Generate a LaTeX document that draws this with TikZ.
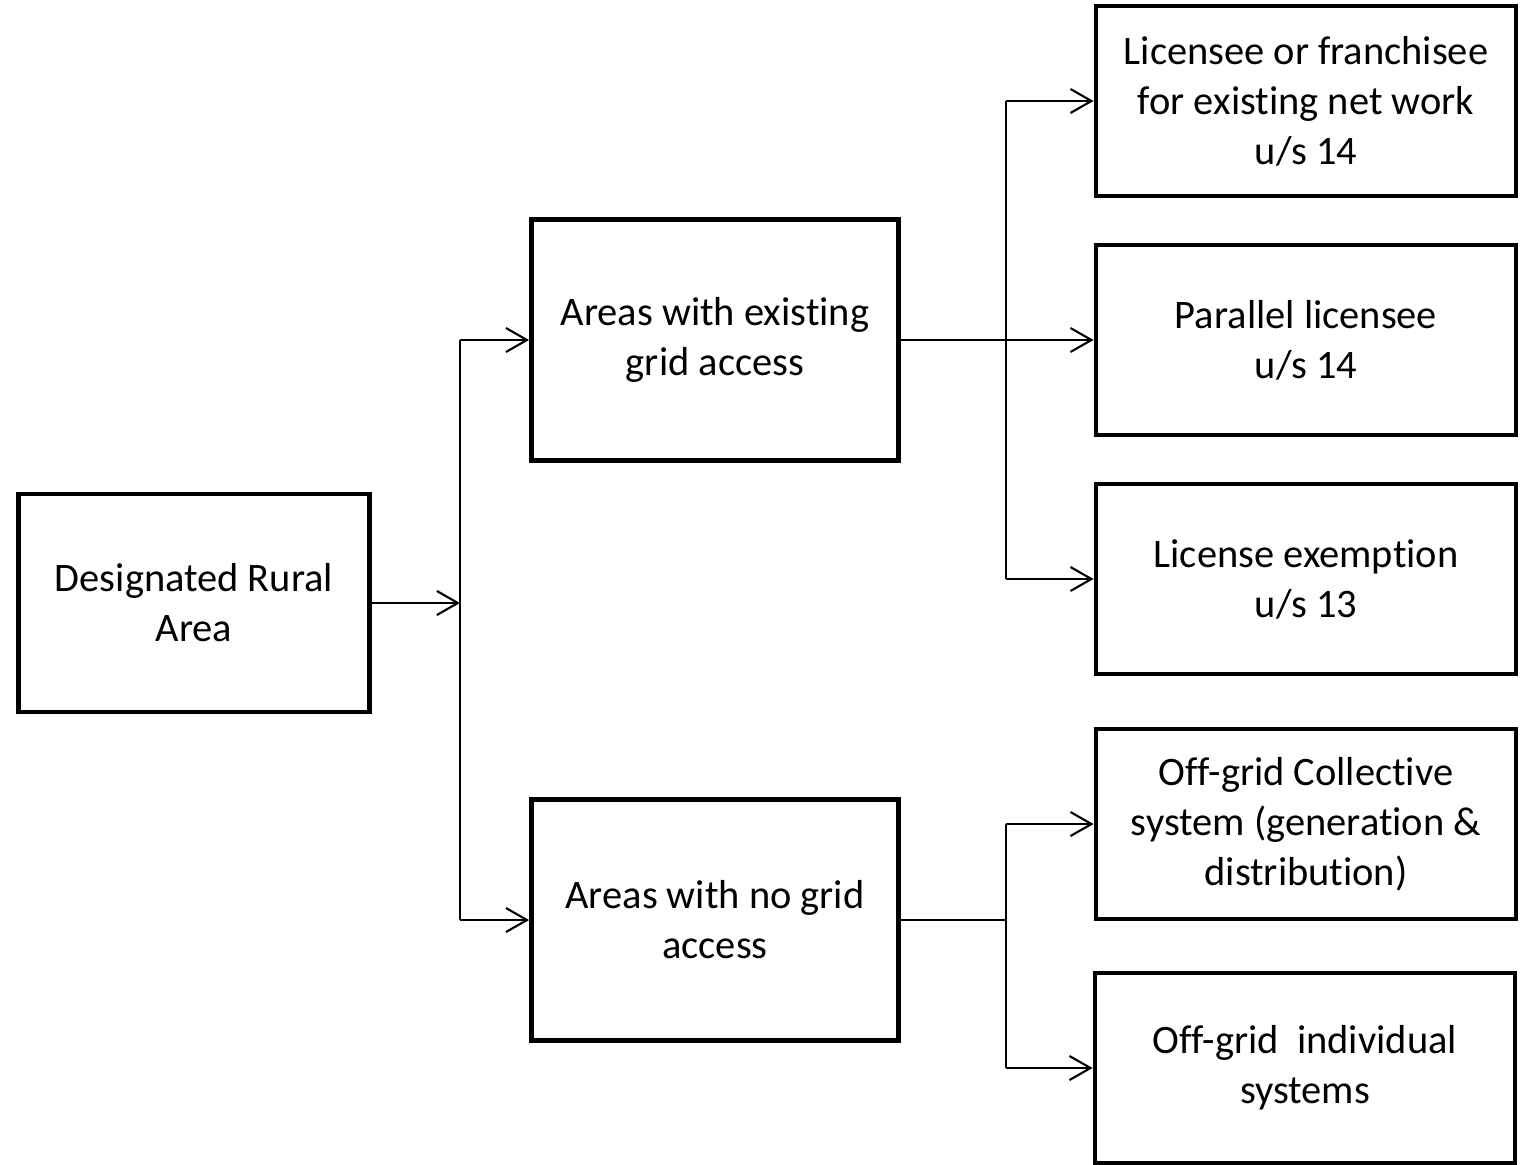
\documentclass[tikz,border=0pt]{standalone}
\usepackage{fontspec}
\setmainfont{Carlito}[Ligatures=NoCommon]
\usetikzlibrary{arrows.meta}

\tikzset{
	box/.style={draw, line width=1.3pt, align=center, inner sep=0pt,
		font=\fontsize{11.5}{14.2}\selectfont},
	leftbox/.style={box, minimum width=3.51cm, minimum height=2.18cm},
	midbox/.style={box, minimum width=3.67cm, minimum height=2.41cm},
	rightbox/.style={box, minimum width=4.2cm, minimum height=1.9cm},
	link/.style={line width=0.6pt},
	arr/.style={link, -{Straight Barb[length=2.1mm,width=2.4mm]}}
}

\begin{document}
\begin{tikzpicture}[x=0.01cm, y=-0.01cm]
	\useasboundingbox (0,0) rectangle (1534,1164);

	% boxes
	\node[leftbox] (rural) at (194,603) {Designated Rural\\Area};
	\node[midbox] (grid) at (715,340) {Areas with existing\\grid access};
	\node[midbox] (nogrid) at (715,920) {Areas with no grid\\access};
	\node[rightbox] (lic) at (1306,101) {Licensee or franchisee\\for existing net work\\u/s 14};
	\node[rightbox] (par) at (1306,340) {Parallel licensee\\u/s 14};
	\node[rightbox] (exem) at (1306,579) {License exemption\\u/s 13};
	\node[rightbox] (coll) at (1306,824) {Off-grid Collective\\system (generation \&\\distribution)};
	\node[rightbox] (indiv) at (1305,1068) {Off-grid~ individual\\systems};

	% trunks
	\coordinate (t1) at (460,603);
	\coordinate (t2) at (1006,340);
	\coordinate (t3) at (1006,920);

	\draw[arr] (rural.east) -- (t1);
	\draw[link] (t1 |- grid.west) -- (t1 |- nogrid.west);
	\foreach \n in {grid,nogrid}
	{
		\draw[arr] (t1 |- \n.west) -- (\n.west);
	}

	\draw[arr] (grid.east) -- (par.west);
	\draw[link] (t2 |- lic.west) -- (t2 |- exem.west);
	\foreach \n in {lic,exem}
	{
		\draw[arr] (t2 |- \n.west) -- (\n.west);
	}

	\draw[link] (nogrid.east) -- (t3);
	\draw[link] (t3 |- coll.west) -- (t3 |- indiv.west);
	\foreach \n in {coll,indiv}
	{
		\draw[arr] (t3 |- \n.west) -- (\n.west);
	}
\end{tikzpicture}
\end{document}
